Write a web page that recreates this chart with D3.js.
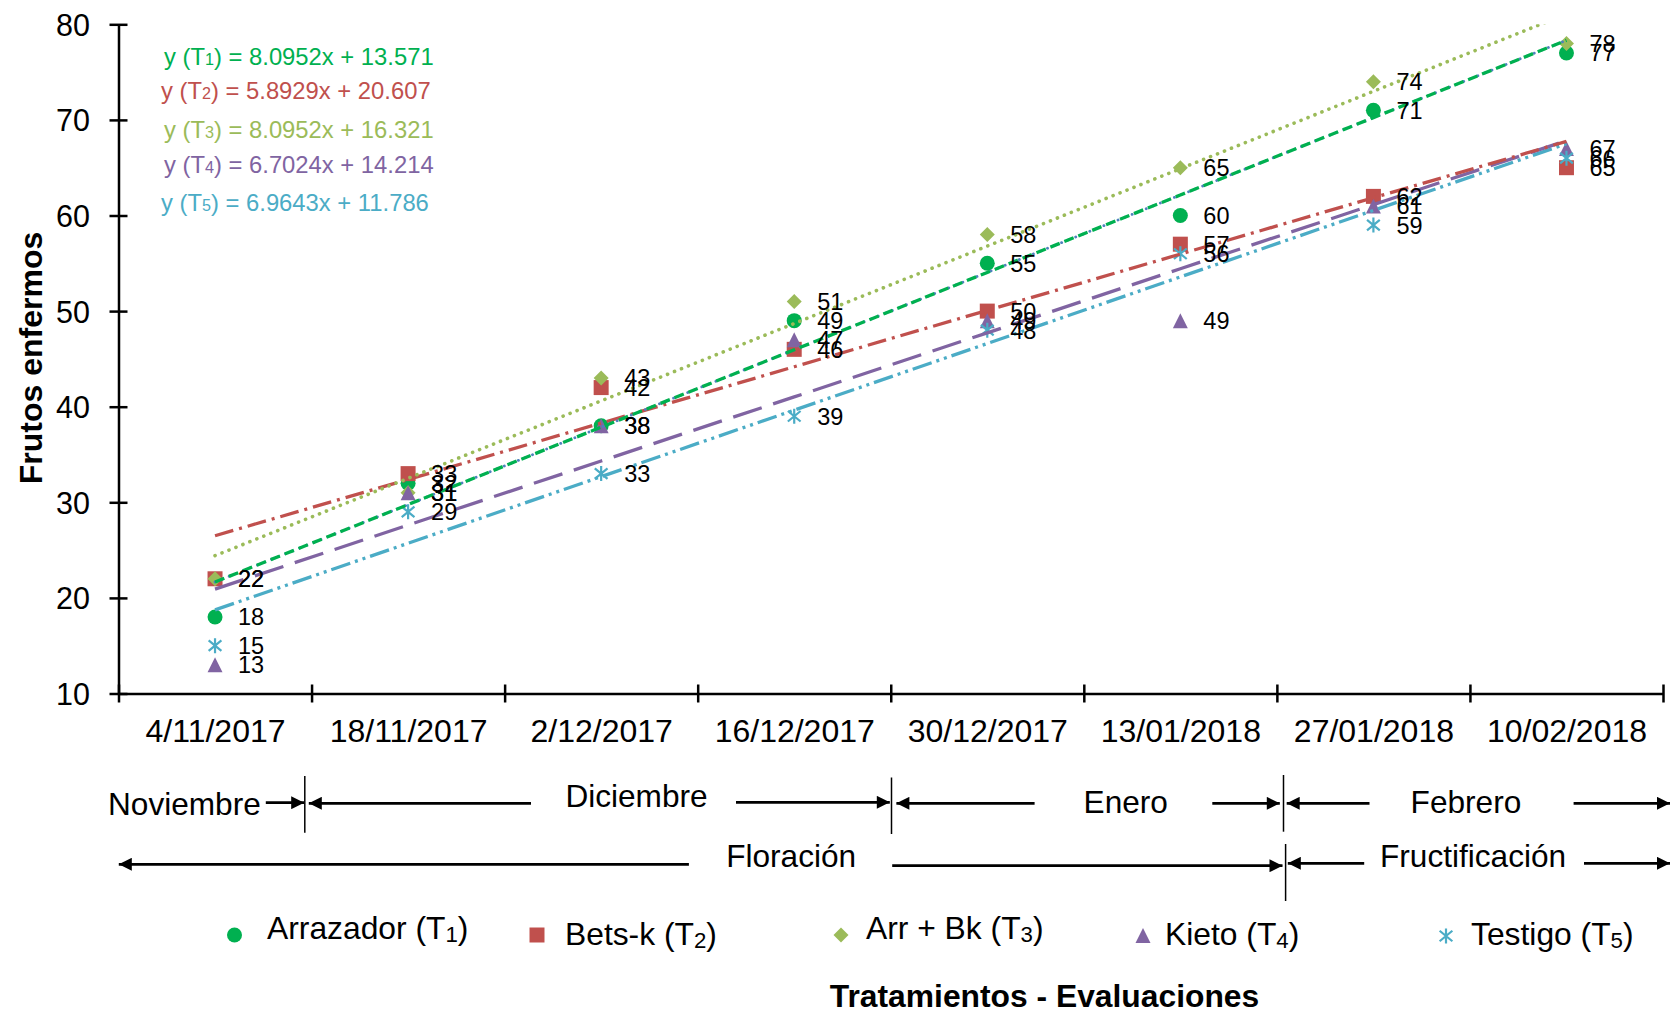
<!DOCTYPE html>
<html><head><meta charset="utf-8">
<script src="https://cdn.jsdelivr.net/npm/d3@7"></script>
<style>
body{margin:0;background:#fff;}
svg{display:block;font-family:"Liberation Sans",Arial,Helvetica,sans-serif;}
</style></head><body>
<svg id="chart" width="1677" height="1015"></svg>
<script>
// ---------- DATA ----------
const dates = ["4/11/2017","18/11/2017","2/12/2017","16/12/2017","30/12/2017","13/01/2018","27/01/2018","10/02/2018"];
const t1 = [18,32,38,49,55,60,71,77];   // Arrazador (T1)
const t2 = [22,33,42,46,50,57,62,65];   // Bets-k (T2)
const t3 = [22,31,43,51,58,65,74,78];   // Arr + Bk (T3)
const t4 = [13,31,38,47,49,49,61,67];   // Kieto (T4)
const t5 = [15,29,33,39,48,56,59,66];   // Testigo (T5)
const seriesNames = ["Arrazador","Bets-k","Arr + Bk","Kieto","Testigo"];
const trendSlopes = [8.0952,5.8929,8.0952,6.7024,6.9643];
const trendIntercepts = [13.571,20.607,16.321,14.214,11.786];
const yTicks = [10,20,30,40,50,60,70,80];
const monthLabels = ["Noviembre","Diciembre","Enero","Febrero"];
const phaseLabels = ["Floración","Fructificación"];
const yTitle = "Frutos enfermos";
const xTitle = "Tratamientos - Evaluaciones";

// ---------- STYLE / LAYOUT ----------
const allSeries = [t1,t2,t3,t4,t5];
const colors = ["#00B050","#C0504D","#9BBB59","#8064A2","#4BACC6"];
const symbols = ["circle","square","diamond","triangle","asterisk"];
const dashes = ["10 5","19 6 3 6","0.1 7.4","30 12","20 5 3 5 3 5"];
const eqPos = [[164,65],[161,99],[164,138.3],[164,173.3],[161,210.7]];
const legendPos = [[234.5,935,267,938.5],[537,935,565,944.5],[841,935,866,938.5],[1143,935.5,1165,944.5],[1446,936,1471,944.5]];
const monthTextPos = [[108,815],[565.4,806.7],[1083.6,813.3],[1410.6,812.7]];
const phaseTextPos = [[726.2,866.7],[1380,866.7]];
const arrows = [ // x1, x2 (head at x2), y
  [265.8,304.2,802.7],[531,308.8,803.3],[736,889.8,802.3],[1034.6,896.4,803.3],
  [1212.3,1279.8,803.3],[1369.5,1286.7,803.3],[1573.6,1670,803.3],
  [688.9,118.8,864.3],[892.2,1282.5,865.7],[1364.2,1287.8,863.3],[1584,1670,863.3]
];
const separators = [[304.8,776,832.7],[891.5,777.5,834],[1283.5,775,831.7],[1285.6,844,901]];

const plot = {left:118.5, right:1663, top:24.3, bottom:693.5};
const svg = d3.select("#chart");

const x = d3.scalePoint().domain(dates).range([plot.left, plot.right]).padding(0.5);
const xi = d3.scaleLinear().domain([0, dates.length]).range([plot.left, plot.right]);
const y = d3.scaleLinear().domain([10,80]).range([plot.bottom, plot.top]);

const defs = svg.append("defs");
defs.append("clipPath").attr("id","plotclip").append("rect")
  .attr("x",plot.left).attr("y",plot.top).attr("width",plot.right-plot.left).attr("height",plot.bottom-plot.top);
defs.append("marker").attr("id","arrowhead").attr("viewBox","0 0 12 12")
  .attr("refX",12).attr("refY",6).attr("markerWidth",14).attr("markerHeight",13)
  .attr("markerUnits","userSpaceOnUse").attr("orient","auto")
  .append("path").attr("d","M0,0 L12,6 L0,12 Z").attr("fill","#000");

// ---------- AXES ----------
const gy = svg.append("g").attr("transform",`translate(${plot.left},0)`)
  .call(d3.axisLeft(y).tickValues(yTicks).tickSize(9).tickSizeOuter(0).tickPadding(0));
gy.select(".domain").attr("stroke","#000").attr("stroke-width",2.5);
gy.selectAll(".tick line").attr("x1",9).attr("stroke","#000").attr("stroke-width",2.5);
gy.selectAll(".tick text").attr("x",-28.5).attr("dy","0.36em").attr("font-size",30.5)
  .attr("fill","#000").attr("font-family","Liberation Sans, Arial, sans-serif");

const gxt = svg.append("g").attr("transform",`translate(0,${plot.bottom})`)
  .call(d3.axisBottom(xi).tickValues(d3.range(0,dates.length+1)).tickFormat("").tickSize(9).tickSizeOuter(0));
gxt.select(".domain").attr("stroke","#000").attr("stroke-width",2.5);
gxt.selectAll(".tick line").attr("y1",-9).attr("stroke","#000").attr("stroke-width",2.5);

const gxl = svg.append("g").attr("transform",`translate(0,${plot.bottom})`)
  .call(d3.axisBottom(x).tickSize(0).tickSizeOuter(0));
gxl.select(".domain").remove();
gxl.selectAll(".tick text").attr("y",48.2).attr("dy",0).attr("font-size",32)
  .attr("fill","#000").attr("font-family","Liberation Sans, Arial, sans-serif");

// ---------- MARKERS ----------
function markerPath(type, s){
  const h = s/2;
  switch(type){
    case "circle": return d3.symbol(d3.symbolCircle, Math.PI*h*h)();
    case "square": return `M${-h},${-h}H${h}V${h}H${-h}Z`;
    case "diamond": return `M0,${-h}L${h},0L0,${h}L${-h},0Z`;
    case "triangle": return `M0,${-h}L${h},${h}L${-h},${h}Z`;
    case "asterisk": return `M0,${-h}V${h}M${-h*0.85},${-h*0.7}L${h*0.85},${h*0.7}M${-h*0.85},${h*0.7}L${h*0.85},${-h*0.7}`;
  }
}
function drawMarker(g, type, color, cx, cy, s){
  const p = g.append("path").attr("d", markerPath(type, s)).attr("transform",`translate(${cx},${cy})`);
  if(type==="asterisk") p.attr("fill","none").attr("stroke",color).attr("stroke-width",2.2);
  else p.attr("fill",color);
}
const gm = svg.append("g");
allSeries.forEach((vals, si) => {
  vals.forEach((v, i) => drawMarker(gm, symbols[si], colors[si], x(dates[i]), y(v), 15));
});

// ---------- TRENDLINES ----------
const gt = svg.append("g").attr("clip-path","url(#plotclip)");
const line = d3.line().x(d=>x(dates[d[0]])).y(d=>y(d[1]));
const trendPts = si => dates.map((d,i)=>[i, trendSlopes[si]*(i+1)+trendIntercepts[si]]);
const drawOrder = [4,3,1,2,0];
drawOrder.forEach(si => {
  if(si===0){
    gt.append("path").attr("d", line(trendPts(0))).attr("fill","none")
      .attr("stroke","#4F81BD").attr("stroke-width",2.8).attr("stroke-dasharray","0.1 7.5").attr("stroke-linecap","round");
  }
  gt.append("path").attr("d", line(trendPts(si))).attr("fill","none")
    .attr("stroke",colors[si]).attr("stroke-width",si===2?3.6:3.3)
    .attr("stroke-dasharray",dashes[si])
    .attr("stroke-linecap", si===2 ? "round" : "butt");
});

// ---------- DATA LABELS ----------
const gl = svg.append("g").attr("font-size",23.5).attr("fill","#000");
allSeries.forEach((vals, si) => {
  vals.forEach((v,i) => {
    gl.append("text").attr("x", x(dates[i])+23).attr("y", y(v)).attr("dy","0.36em").text(v);
  });
});

// ---------- EQUATIONS ----------
const ge = svg.append("g").attr("font-size",23.8);
trendSlopes.forEach((m, si) => {
  const t = ge.append("text").attr("x",eqPos[si][0]).attr("y",eqPos[si][1]).attr("fill",colors[si]);
  t.append("tspan").text("y (T");
  t.append("tspan").attr("font-size","0.68em").text(si+1);
  t.append("tspan").text(`) = ${m.toFixed(4)}x + ${trendIntercepts[si].toFixed(3)}`);
});

// ---------- AXIS TITLES ----------
svg.append("text").attr("transform","translate(41.5,358) rotate(-90)")
  .attr("text-anchor","middle").attr("font-size",32).attr("font-weight","bold").attr("fill","#000").text(yTitle);
svg.append("text").attr("x",1044.5).attr("y",1006.5).attr("text-anchor","middle")
  .attr("font-size",31.8).attr("font-weight","bold").attr("fill","#000").text(xTitle);

// ---------- PERIOD ANNOTATIONS ----------
const ga = svg.append("g");
monthLabels.forEach((m,i)=> ga.append("text").attr("x",monthTextPos[i][0]).attr("y",monthTextPos[i][1]).attr("font-size",31.6).attr("fill","#000").text(m));
phaseLabels.forEach((m,i)=> ga.append("text").attr("x",phaseTextPos[i][0]).attr("y",phaseTextPos[i][1]).attr("font-size",31.6).attr("fill","#000").text(m));
arrows.forEach(a => ga.append("line").attr("x1",a[0]).attr("x2",a[1]).attr("y1",a[2]).attr("y2",a[2])
  .attr("stroke","#000").attr("stroke-width",2.8).attr("marker-end","url(#arrowhead)"));
separators.forEach(s => ga.append("line").attr("x1",s[0]).attr("x2",s[0]).attr("y1",s[1]).attr("y2",s[2])
  .attr("stroke","#000").attr("stroke-width",1.5));

// ---------- LEGEND ----------
const gleg = svg.append("g");
seriesNames.forEach((n, si) => {
  const p = legendPos[si];
  drawMarker(gleg, symbols[si], colors[si], p[0], p[1], 15);
  const t = gleg.append("text").attr("x",p[2]).attr("y",p[3]).attr("font-size",31.8).attr("fill","#000");
  t.append("tspan").text(n + " (T");
  t.append("tspan").attr("font-size","0.7em").attr("dy","3").text(si+1);
  t.append("tspan").attr("dy","-3").text(")");
});
</script>
</body></html>
